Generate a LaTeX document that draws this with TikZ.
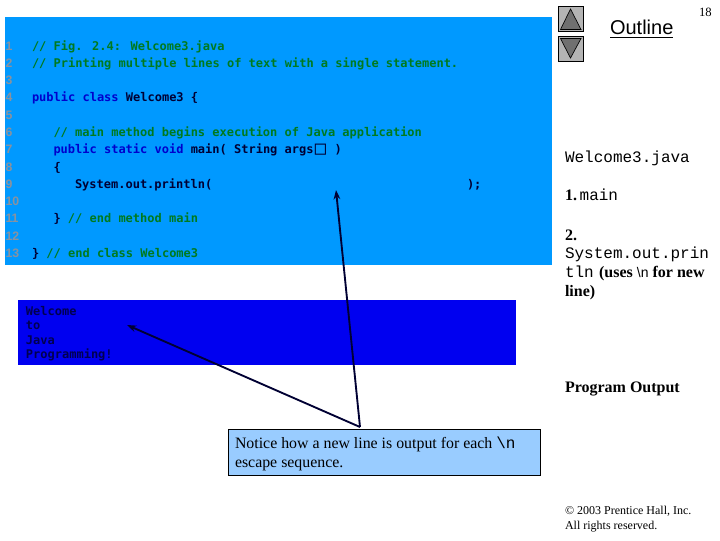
\documentclass[tikz,border=0pt]{standalone}
\usepackage{fontspec}
\usetikzlibrary{arrows.meta,calc}
\setmainfont{Liberation Serif}
\setsansfont{Liberation Sans}
\newfontfamily\codefont{DejaVu Sans Mono}
\newfontfamily\thinmono{Liberation Mono}
\definecolor{codebg}{HTML}{0099FF}
\definecolor{outbg}{HTML}{0000F0}
\definecolor{cmt}{HTML}{007A1E}
\definecolor{kw}{HTML}{0000CC}
\definecolor{ink}{HTML}{000033}
\definecolor{lnum}{HTML}{8A929E}
\definecolor{outink}{HTML}{000050}
\definecolor{callfill}{HTML}{99CCFF}
\definecolor{btn}{HTML}{B4B4B4}
\definecolor{tri}{HTML}{707070}
\newcommand{\cm}[1]{\textcolor{cmt}{#1}}
\newcommand{\kwd}[1]{\textcolor{kw}{#1}}
\newcommand{\nlcall}{{\thinmono\mdseries\fontsize{12pt}{14pt}\selectfont\textbackslash n}}
\newcommand{\nlside}{{\sffamily\mdseries\fontsize{10.5pt}{12pt}\selectfont\textbackslash n}}
\tikzset{
  every node/.style={inner sep=0pt,outer sep=0pt},
  txt/.style={anchor=base west,text=black},
  code/.style={anchor=base west,text=ink,font=\codefont\bfseries\fontsize{9pt}{10pt}\selectfont},
  lno/.style={anchor=base west,text=lnum,font=\sffamily\bfseries\fontsize{9.2pt}{10pt}\selectfont},
  outp/.style={code,text=outink},
  side/.style={txt,font=\bfseries\fontsize{12pt}{13pt}\selectfont},
  mono/.style={txt,font=\thinmono\fontsize{12pt}{14pt}\selectfont},
  small/.style={txt,font=\fontsize{9pt}{11pt}\selectfont},
  callouttext/.style={txt,font=\fontsize{11.9pt}{13pt}\selectfont},
  btnbox/.style={draw=black,line width=0.6pt,fill=btn,minimum width=18.3pt,minimum height=18.3pt},
  trishape/.style={draw=black,line width=0.5pt,fill=tri},
  pointer/.style={draw=ink,line width=1.4pt,-{Stealth[length=7pt,width=5pt]}}
}
\begin{document}
\begin{tikzpicture}[x=0.75pt,y=-0.75pt]
\useasboundingbox (0,0) rectangle (720,540);
\fill[white] (0,0) rectangle (720,540);
% panels
\node[fill=codebg,anchor=north west,minimum width=410.25pt,minimum height=186pt] (codepanel) at (5,17) {};
\node[fill=outbg,anchor=north west,minimum width=373.5pt,minimum height=48.75pt] (outpanel) at (18,300) {};
% line numbers
\foreach \n/\yy in {1/50,2/67,3/84.5,4/101.5,5/119,6/136,7/153.5,8/171,9/188,10/205.5,11/222.5,12/240,13/257}
  \node[lno] (ln\n) at (5.5,\yy) {\n};
% code
\node[code] (c1) at (32,50) {\cm{// Fig. 2.4: Welcome3.java}};
\node[code] (c2) at (32,67) {\cm{// Printing multiple lines of text with a single statement.}};
\node[code] (c4) at (32,101.5) {\kwd{public class} Welcome3 \{};
\node[code] (c6) at (53.5,136) {\cm{// main method begins execution of Java application}};
\node[code] (c7) at (53.5,153.5) {\kwd{public static void} main( String args\hspace{1pt}\raisebox{-0.6pt}{\fontsize{14pt}{14pt}\selectfont □}\hspace{1pt} )};
\node[code] (c8) at (53.5,171) {\{};
\node[code] (c9) at (75,188) {System.out.println(};
\node[code] (c9b) at (467,188) {);};
\node[code] (c11) at (53.5,222.5) {\} \cm{// end method main}};
\node[code] (c13) at (32,257) {\} \cm{// end class Welcome3}};
% output
\node[outp] (o1) at (26,315) {Welcome};
\node[outp] (o2) at (26,329.5) {to};
\node[outp] (o3) at (26,344) {Java};
\node[outp] (o4) at (26,358.5) {Programming!};
% callout
\node[draw=black,line width=0.7pt,fill=callfill,anchor=north west,minimum width=234pt,minimum height=34.5pt] (callout) at (228.5,429) {};
\node[callouttext] (ct1) at (235,448) {Notice how a new line is output for each \nlcall};
\node[callouttext] (ct2) at (235,467) {escape sequence.};
% pointers
\coordinate (apex) at (360,427);
\coordinate (tipa) at (336,190);
\coordinate (tipb) at (127,325);
\draw[pointer] (apex) -- (tipa);
\draw[pointer] (apex) -- (tipb);
% buttons
\node[btnbox,anchor=north west] (up) at (558.5,6.5) {};
\node[btnbox,anchor=north west] (down) at (558.5,36.5) {};
\draw[trishape] (570.5,9) -- (581,29.5) -- (560.5,29.5) -- cycle;
\draw[trishape] (570.5,58) -- (581,38.5) -- (560.5,38.5) -- cycle;
% header
\node[txt,font=\sffamily\fontsize{15pt}{16pt}\selectfont] (outline) at (610,34) {Outline};
\draw[black,line width=0.7pt] ($(outline.base west)+(0,3)$) -- ($(outline.base east)+(0,3)$);
\node[txt,font=\fontsize{9.5pt}{11pt}\selectfont] (page) at (699,16) {18};
% side panel
\node[mono] (s1) at (565,162) {Welcome3.java};
\node[txt] (s2) at (565,200) {\fontsize{12pt}{13pt}\selectfont\bfseries 1.\thinmono\mdseries\fontsize{12pt}{14pt}\selectfont\,main};
\node[side] (s3) at (565,240) {2.};
\node[mono] (s4) at (565,258) {System.out.prin};
\node[txt] (s5) at (565,277.5) {{\thinmono\fontsize{12pt}{14pt}\selectfont tln}\hspace{1.5pt} {\fontsize{12pt}{13pt}\selectfont\bfseries (uses \nlside{} for new}};
\node[side] (s6) at (565,296) {line)};
\node[side] (s7) at (565,392.5) {Program Output};
\node[small] (s8) at (565,514.5) {© 2003 Prentice Hall, Inc.};
\node[small] (s9) at (565,529.5) {All rights reserved.};
\end{tikzpicture}
\end{document}
